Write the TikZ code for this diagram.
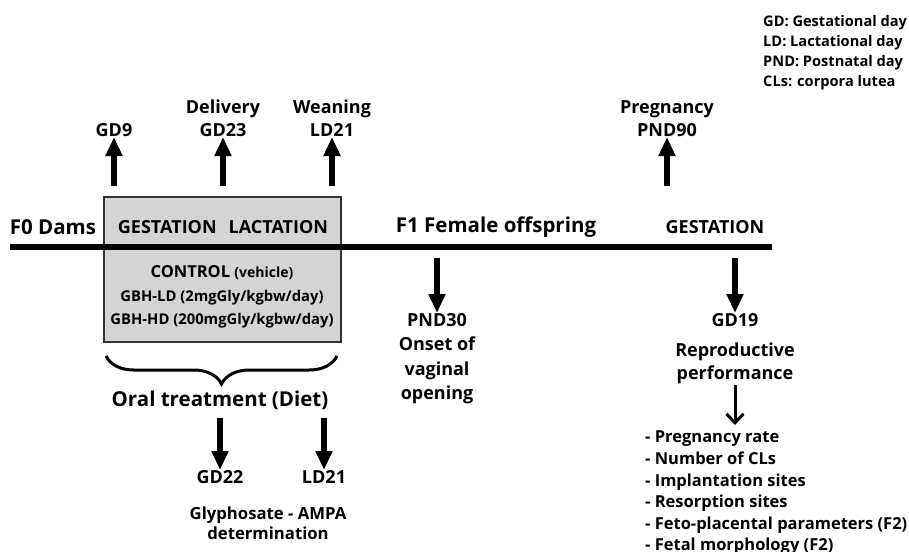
\documentclass[tikz,border=0pt]{standalone}
\usepackage{fontspec}
\setmainfont{Open Sans}
\usetikzlibrary{arrows.meta,decorations.pathreplacing,positioning}

\begin{document}
\begin{tikzpicture}[x=1pt, y=-1pt,
  big/.style={font=\fontsize{20.5}{24}\selectfont\bfseries},
  mid/.style={font=\fontsize{18}{23}\selectfont\bfseries, align=center, inner sep=0pt},
  small/.style={font=\fontsize{16.5}{21.6}\selectfont\bfseries, align=left, inner sep=0pt},
  fat/.style={line width=6.5pt, -{Triangle[length=19pt,width=16pt]}},
  thin/.style={line width=3pt, -{Straight Barb[length=9pt,width=17pt]}}]

	\useasboundingbox (0,0) rectangle (909,551);
	
	% treatment box and timeline
	\node [draw=black!80, fill=black!17, line width=2pt, minimum width=237pt,
	  minimum height=145pt, inner sep=0pt] (box) at (222.5,269.5) {};
	\coordinate (t-start) at (10,247);
	\coordinate (t-end) at (772,247);
	\draw [line width=6pt] (t-start) -- (t-end);
	
	\node [big] (f0) at (53,227) {F0 Dams};
	\node [big] (f1) at (496,227) {F1 Female offspring};
	\node [mid] (phase) at (223,227) {GESTATION\hspace{12pt}LACTATION};
	\node [mid] (gest) at (715,227) {GESTATION};
	
	\node [mid, font=\fontsize{16.5}{18}\selectfont\bfseries] (ctrl) at (222,273) {CONTROL {\fontsize{14}{18}\selectfont(vehicle)}};
	\node [mid, font=\fontsize{14.8}{18}\selectfont\bfseries] (ld) at (222,298) {GBH-LD (2mgGly/kgbw/day)};
	\node [mid, font=\fontsize{14.8}{18}\selectfont\bfseries] (hd) at (222,321) {GBH-HD (200mgGly/kgbw/day)};
	
	% events above the timeline
	\foreach \x/\t [count=\i] in {114/GD9, 223/Delivery\\GD23, 332/Weaning\\LD21, 667/Pregnancy\\PND90}
	{
	  \node [mid, anchor=south] (up-\i) at (\x,137) {\t};
	  \coordinate (upbase-\i) at (\x,186);
	  \draw [fat] (upbase-\i) -- (up-\i.south);
	}
	
	% events below the timeline
	\coordinate (pnd-top) at (437,258);
	\node [mid, anchor=north, font=\fontsize{18}{24.5}\selectfont\bfseries] (pnd30) at (437,313) {PND30\\Onset of\\vaginal\\opening};
	\draw [fat] (pnd-top) -- (pnd30.north);
	
	\coordinate (gd-top) at (735,258);
	\node [mid, anchor=north] (gd19) at (735,313) {GD19};
	\node [mid, below=16pt of gd19.south, anchor=north] (repro) {Reproductive\\performance};
	\node [small, anchor=north west] (list) at (645,431) {- Pregnancy rate\\- Number of CLs\\- Implantation sites\\- Resorption sites\\- Feto-placental parameters (F2)\\- Fetal morphology (F2)};
	\draw [fat] (gd-top) -- (gd19.north);
	\draw [thin, shorten >=6pt] (repro.south) ++(0,1) -- (list.north -| repro.south);
	
	% oral treatment
	\draw [decorate, decoration={brace, mirror, amplitude=28pt}, line width=3pt]
	  ([xshift=3pt, yshift=-13pt]box.south west) -- ([xshift=-5pt, yshift=-13pt]box.south east);
	\node [big] (oral) at (220,400) {Oral treatment (Diet)};
	
	\foreach \x/\t [count=\i] in {220/GD22, 324/LD21}
	{
	  \node [mid, anchor=north] (dn-\i) at (\x,470) {\t};
	  \coordinate (dnbase-\i) at (\x,418);
	  \draw [fat] (dnbase-\i) -- (dn-\i.north);
	}
	\node [mid, font=\fontsize{16.7}{20}\selectfont\bfseries] (gly) at (268,523) {Glyphosate - AMPA\\determination};
	
	% abbreviations
	\node [small, anchor=north west, font=\fontsize{14.6}{20.2}\selectfont\bfseries] (legend) at (763,15) {GD: Gestational day\\LD: Lactational day\\PND: Postnatal day\\CLs: corpora lutea};
	
\end{tikzpicture}
\end{document}
